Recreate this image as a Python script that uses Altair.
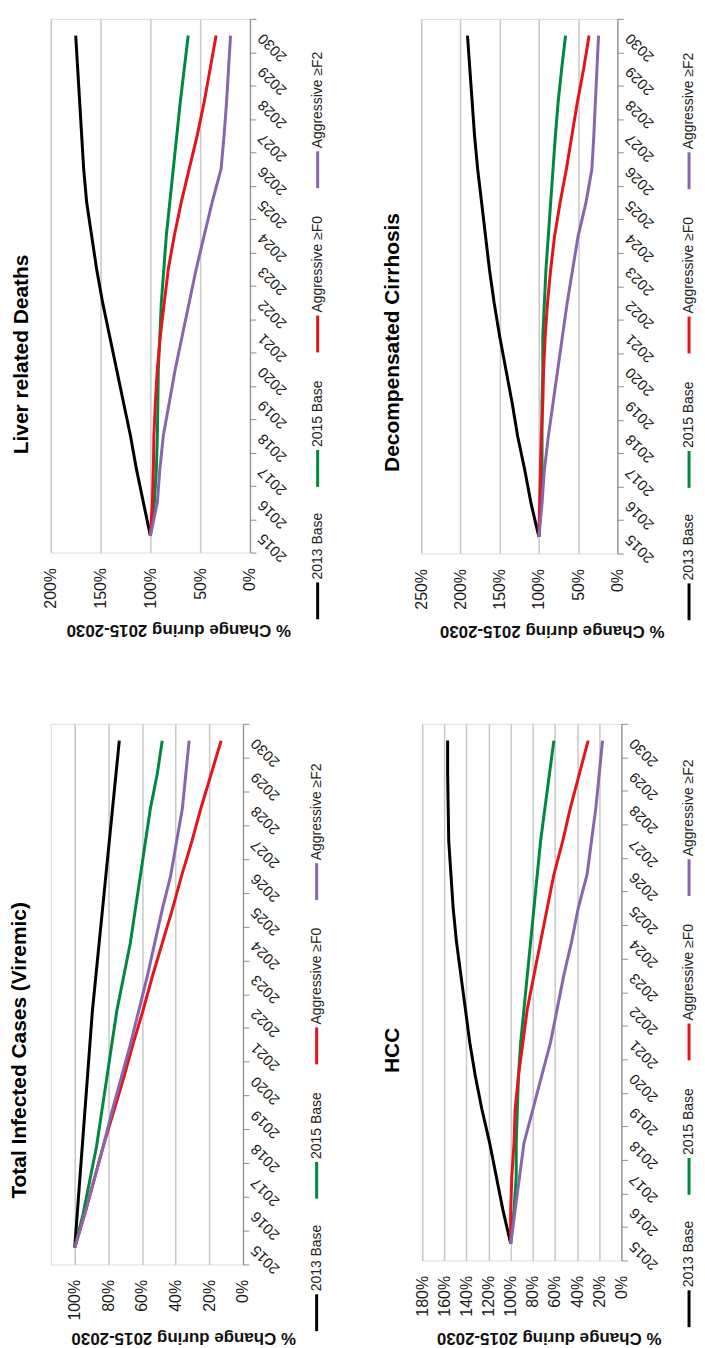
import altair as alt
import pandas as pd

FONT = "Liberation Sans"

years = list(range(2015, 2031))
series_names = ["2013 Base", "2015 Base", "Aggressive ≥F0", "Aggressive ≥F2"]
series_colors = ["#000000", "#00893E", "#E3151B", "#8766AE"]
axis_title = "% Change during 2015-2030"

# Liver related Deaths (%)
liver_2013 = [100, 107, 114, 120, 127, 134, 141, 148, 154, 159, 164, 167, 169, 171, 173, 175]
liver_2015 = [100, 96, 94, 93, 92.5, 92, 90.5, 89, 86.5, 84, 80.5, 77, 73.5, 70, 66, 62]
liver_f0 = [100, 98, 97, 96.5, 95, 93, 90, 86, 82, 76, 69, 61, 53, 46, 40, 34]
liver_f2 = [100, 93, 90.5, 87, 81, 75, 68, 61, 54, 46, 38, 29, 26, 23.5, 21.5, 19.5]

# Decompensated Cirrhosis (%)
dc_2013 = [100, 110, 118, 127, 134, 142, 150, 157, 163, 168, 173, 178, 182, 185, 188, 191]
dc_2015 = [100, 97, 96, 96, 96, 95, 95, 93, 91, 88, 85, 82, 79, 75.5, 71, 66]
dc_f0 = [100, 99, 98, 97, 95, 94, 92, 89, 85, 80, 73, 65, 58, 51, 43, 36]
dc_f2 = [100, 96, 93, 88, 82, 76, 70, 64, 57, 50, 40, 32.5, 30, 28, 26, 24]

# Total Infected Cases (Viremic) (%)
tic_2013 = [100, 98.5, 97, 95.5, 94, 92.5, 91, 89.5, 87.5, 85.5, 83.5, 81.5, 79.5, 77.5, 75.5, 73.5]
tic_2015 = [100, 95, 91, 87, 84, 81, 78, 75, 71, 67, 64, 61, 58, 55, 51, 48]
tic_f0 = [100, 94, 88.5, 83, 77, 71, 65.5, 59.5, 54, 48, 42, 36.5, 30.5, 25, 19, 13]
tic_f2 = [100, 94, 88.5, 83, 78, 72.5, 67, 62, 57, 52.5, 48, 43, 39.5, 36, 34, 32]

# HCC (%)
hcc_2013 = [100, 107, 113, 119, 126, 132, 137, 141, 145, 149, 152, 154, 156, 156.5, 157, 157]
hcc_2015 = [100, 97, 95, 95, 94, 93, 91, 88, 85, 82, 79, 76, 73, 69, 65, 61]
hcc_f0 = [100, 100, 99, 97, 96, 93, 89, 85, 79, 73, 67, 61, 53, 46, 38, 30]
hcc_f2 = [100, 96, 92, 88, 80, 72, 64, 58, 52, 45, 39, 31, 27, 23, 20, 17]

# legend item offsets (layout, px up from the first item)
legend_offsets = [0, 133, 268, 433]

color_scale = alt.Scale(domain=series_names, range=series_colors)


def panel(title, series, xmax, xstep, width, height, title_x, title_y,
          atitle_x, atitle_y, legend_x, inset=0):
    rows = []
    for name, vals in zip(series_names, series):
        for y, v in zip(years, vals):
            rows.append({"series": name, "year": y, "value": v})
    df = pd.DataFrame(rows)
    ticks = list(range(0, xmax + 1, xstep))
    full_w = width + inset

    lines = alt.Chart(df).mark_line(strokeWidth=3).encode(
        x=alt.X(
            "value:Q",
            scale=alt.Scale(domain=[0, xmax], range=[full_w, inset], nice=False, zero=True),
            axis=alt.Axis(
                values=ticks, labelExpr="datum.value + '%'", orient="bottom",
                grid=True, gridColor="#C8C8C8", gridWidth=1.5,
                domain=False, ticks=False, tickSize=0,
                labelAngle=270, labelAlign="right", labelBaseline="middle",
                labelPadding=15, labelFontSize=16, labelFont=FONT,
                labelColor="#1a1a1a", labelOverlap=False, labelFlush=False,
                title=axis_title, titleAngle=180, titleFontSize=17,
                titleFontWeight="bold", titleFont=FONT, titleColor="#111111",
                titleX=atitle_x, titleY=atitle_y, titleAlign="center",
                titleBaseline="middle",
            ),
        ),
        y=alt.Y(
            "year:O", sort="descending",
            scale=alt.Scale(type="band", paddingInner=0, paddingOuter=0),
            axis=alt.Axis(
                orient="right", title=None, grid=False,
                domainColor="#8C8C8C", domainWidth=1,
                tickBand="extent", tickColor="#8C8C8C", tickSize=6, tickWidth=1,
                labelAngle=225, labelAlign="right", labelBaseline="middle",
                labelPadding=4, labelFontSize=15, labelFont=FONT,
                labelColor="#1a1a1a", labelOverlap=False,
            ),
        ),
        color=alt.Color("series:N", scale=color_scale, legend=None),
        order=alt.Order("year:Q"),
    )

    leg = pd.DataFrame({"series": series_names, "off": legend_offsets})
    legend_lines = alt.Chart(leg).transform_calculate(
        ly1=f"{height + 67} - datum.off", ly2=f"{height + 30} - datum.off"
    ).mark_rule(strokeWidth=3).encode(
        x=alt.value(full_w + legend_x),
        y=alt.Y("ly1:Q", scale=None, axis=None),
        y2="ly2:Q",
        color=alt.Color("series:N", scale=color_scale, legend=None),
    )
    legend_text = alt.Chart(leg).transform_calculate(
        ty=f"{height + 27} - datum.off"
    ).mark_text(angle=270, align="left", baseline="middle", fontSize=14,
                font=FONT, color="#222222").encode(
        x=alt.value(full_w + legend_x),
        y=alt.Y("ty:Q", scale=None, axis=None),
        text="series:N",
    )

    title_mark = alt.Chart(pd.DataFrame({"t": [title]})).mark_text(
        angle=270, align="center", baseline="middle", fontSize=21,
        fontWeight="bold", font=FONT, color="#000000",
    ).encode(
        x=alt.value(title_x), y=alt.value(title_y), text="t:N",
    )

    return alt.layer(lines, legend_lines, legend_text, title_mark).properties(
        width=full_w, height=height,
    )


liver = panel("Liver related Deaths", [liver_2013, liver_2015, liver_f0, liver_f2],
              200, 50, 200, 536, -28.5, 337, 128, 77, 68)
dc = panel("Decompensated Cirrhosis", [dc_2013, dc_2015, dc_f0, dc_f2],
           250, 50, 197, 537, -28.5, 325, 131, 77, 72)
tic = panel("Total Infected Cases (Viremic)", [tic_2013, tic_2015, tic_f0, tic_f2],
            100, 20, 169, 543, -30.5, 328, 133, 73, 74, inset=24)
hcc = panel("HCC", [hcc_2013, hcc_2015, hcc_f0, hcc_f2],
            180, 20, 200, 539, -29.5, 328, 127, 77, 68)

row1 = alt.hconcat(liver, dc, spacing=56)
row2 = alt.hconcat(tic, hcc, spacing=57)

chart = alt.vconcat(row1, row2, spacing=77).properties(
    padding={"left": 1, "top": 1, "right": 0, "bottom": 0}
).configure_view(strokeWidth=0).configure(font=FONT)

chart.save("out.html", embed_options={"renderer": "svg", "actions": False})
